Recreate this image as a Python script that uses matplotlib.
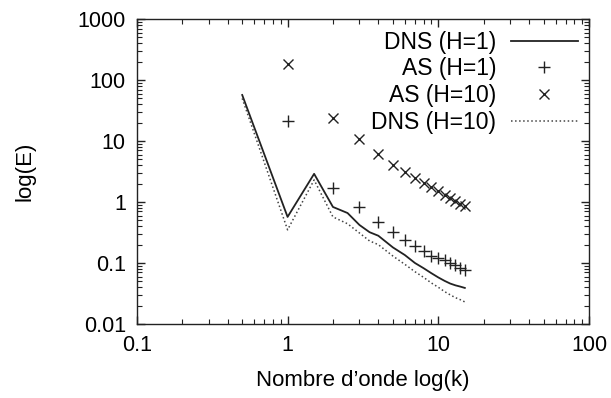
import matplotlib
matplotlib.use("Agg")
import matplotlib.pyplot as plt
from matplotlib.ticker import LogLocator, FuncFormatter, NullFormatter

plt.rcParams["font.family"] = ["Liberation Sans", "DejaVu Sans"]

# wavenumbers for the direct simulations and the analytical spectra
k_dns = [0.5, 1, 1.5, 2, 2.5, 3, 3.5, 4, 5, 6, 7, 8, 9, 10, 11, 12, 13, 14, 15]
k_as = [1, 2, 3, 4, 5, 6, 7, 8, 9, 10, 11, 12, 13, 14, 15]

e_dns_h1 = [57, 0.57, 2.9, 0.83, 0.66, 0.42, 0.32, 0.28, 0.18, 0.135, 0.1,
            0.082, 0.068, 0.058, 0.051, 0.046, 0.043, 0.041, 0.039]
e_dns_h10 = [50, 0.35, 2.3, 0.57, 0.44, 0.31, 0.23, 0.2, 0.13, 0.095, 0.072,
             0.058, 0.047, 0.04, 0.034, 0.03, 0.027, 0.025, 0.023]
e_as_h1 = [21, 1.7, 0.83, 0.47, 0.32, 0.24, 0.19, 0.16, 0.13, 0.12,
           0.11, 0.1, 0.092, 0.084, 0.076]
e_as_h10 = [182, 24, 10.8, 6.1, 4.0, 3.1, 2.5, 2.05, 1.75, 1.5,
            1.32, 1.17, 1.04, 0.94, 0.85]

fig = plt.figure(figsize=(6.11, 3.98), dpi=100)
ax = fig.add_axes([0.224, 0.186, 0.740, 0.766])

ax.plot(k_dns, e_dns_h1, "-", color="#222222", lw=1.3, label="DNS (H=1)")
ax.plot(k_as, e_as_h1, "+", color="#222222", ms=8, mew=1.0, ls="none",
        label="AS (H=1)")
ax.plot(k_as, e_as_h10, "x", color="#222222", ms=7, mew=1.0, ls="none",
        label="AS (H=10)")
ax.plot(k_dns, e_dns_h10, ":", color="#444444", lw=1.1, label="DNS (H=10)")

ax.set_xscale("log")
ax.set_yscale("log")
ax.set_xlim(0.1, 100)
ax.set_ylim(0.01, 1000)

fmt = FuncFormatter(lambda v, pos: f"{v:g}")
for axis in (ax.xaxis, ax.yaxis):
    axis.set_major_locator(LogLocator(base=10))
    axis.set_minor_locator(LogLocator(base=10, subs=range(2, 10)))
    axis.set_major_formatter(fmt)
    axis.set_minor_formatter(NullFormatter())

ax.tick_params(which="both", direction="in", top=True, right=True,
               labelsize=15.5, color="#222222")
ax.tick_params(which="major", length=6, width=1, pad=8)
ax.tick_params(which="minor", length=3.5, width=0.8)
for s in ax.spines.values():
    s.set_linewidth(1.0)
    s.set_color("#222222")

ax.set_xlabel("Nombre d\u2019onde log(k)", fontsize=16, labelpad=10)
ax.set_ylabel("log(E)", fontsize=16, labelpad=30)

ax.legend(loc="upper right", frameon=False, markerfirst=False, fontsize=16.5,
          handlelength=2.9, labelspacing=0.17, handletextpad=0.65,
          borderpad=0.2, borderaxespad=0.3)

fig.savefig("out.png", dpi=100)
